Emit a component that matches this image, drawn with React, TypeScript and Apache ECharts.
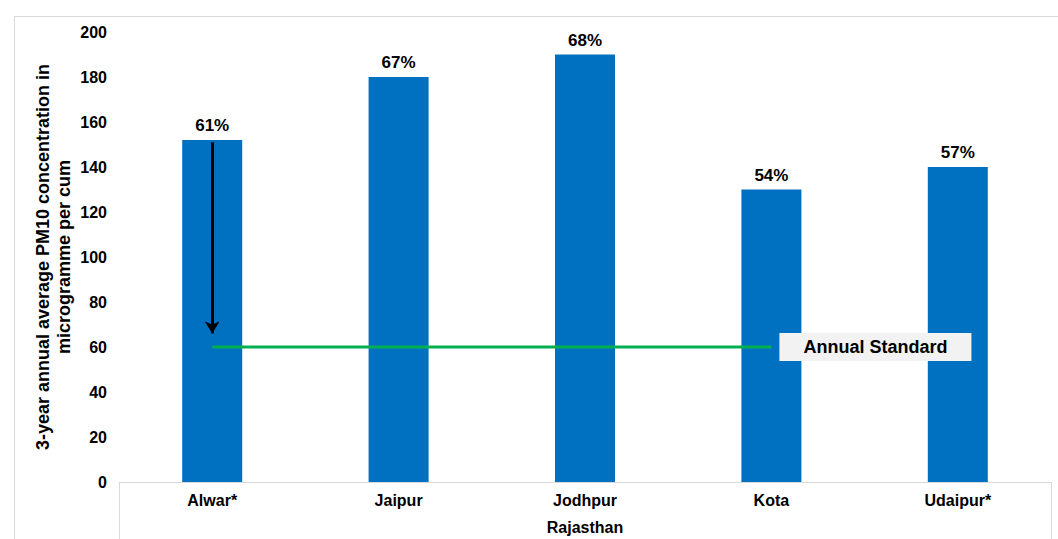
import React, { useEffect, useRef } from "react";
import * as echarts from "echarts";

const categories = ["Alwar*", "Jaipur", "Jodhpur", "Kota", "Udaipur*"];
const pm10Values = [152, 180, 190, 130, 140];
const exceedPct = ["61%", "67%", "68%", "54%", "57%"];
const groupLabel = ["Rajasthan"];
const standardValue = 60;
const standardFrom = "Alwar*";
const standardTo = "Kota";
const arrowFrom = 151;
const arrowTo = 66;
const yTicks = { min: 0, max: 200, interval: 20 };

const FONT = "'Liberation Sans', Arial, sans-serif";

export default function App() {
  const ref = useRef<HTMLDivElement>(null);
  useEffect(() => {
    if (!ref.current) return;
    const chart = echarts.init(ref.current, undefined, { renderer: "svg" });
    chart.setOption({
      animation: false,
      textStyle: { fontFamily: FONT },
      grid: { left: 119, right: 7, top: 32, bottom: 57, containLabel: false },
      graphic: [
        {
          type: "rect",
          left: 12,
          top: 14,
          shape: { width: 1100, height: 600 },
          style: { fill: "none", stroke: "#d9d9d9", lineWidth: 1 },
          silent: true,
          z: -1,
        },
      ],
      xAxis: [
        {
          type: "category",
          data: categories,
          position: "bottom",
          axisLine: { show: true, lineStyle: { color: "#d9d9d9", width: 1 } },
          axisTick: { show: false },
          axisLabel: { color: "#000", fontWeight: "bold", fontSize: 16, margin: 10, fontFamily: FONT },
        },
        {
          type: "category",
          data: groupLabel,
          position: "bottom",
          offset: 0,
          axisLine: { show: false },
          axisTick: { show: true, length: 60, lineStyle: { color: "#d9d9d9", width: 1 } },
          axisLabel: { color: "#000", fontWeight: "bold", fontSize: 16, margin: 37, fontFamily: FONT },
        },
      ],
      yAxis: {
        type: "value",
        min: yTicks.min,
        max: yTicks.max,
        interval: yTicks.interval,
        axisLine: { show: false },
        axisTick: { show: false },
        splitLine: { show: false },
        axisLabel: { color: "#000", fontWeight: "bold", fontSize: 16, margin: 12, fontFamily: FONT },
        name: "3-year annual average PM10 concentration in\nmicrogramme per cum",
        nameLocation: "middle",
        nameRotate: 90,
        nameGap: 45,
        nameMoveOverlap: false,
        nameTextStyle: {
          color: "#000",
          fontWeight: "bold",
          fontSize: 18,
          lineHeight: 21,
          fontFamily: FONT,
          align: "center",
        },
      },
      series: [
        {
          type: "bar",
          data: pm10Values,
          barWidth: 60,
          itemStyle: { color: "#0070C0" },
          label: {
            show: true,
            position: "top",
            distance: 6,
            formatter: (p: any) => exceedPct[p.dataIndex],
            color: "#000",
            fontWeight: "bold",
            fontSize: 17,
            fontFamily: FONT,
          },
          markLine: {
            silent: true,
            symbol: ["none", "arrow"],
            symbolSize: [11, 12],
            label: { show: false },
            lineStyle: { color: "#000", width: 3, type: "solid" },
            data: [[{ coord: [standardFrom, arrowFrom] }, { coord: [standardFrom, arrowTo] }]],
            z: 5,
          },
        },
        {
          type: "line",
          data: [
            [standardFrom, standardValue],
            [standardTo, standardValue],
          ],
          symbol: "none",
          lineStyle: { color: "#00B050", width: 3 },
          z: 4,
          endLabel: {
            show: true,
            formatter: "Annual Standard",
            color: "#000",
            fontWeight: "bold",
            fontSize: 18,
            fontFamily: FONT,
            backgroundColor: "#f2f2f2",
            padding: [5, 24, 5, 24],
            distance: 8,
          },
        },
      ],
    });
    return () => chart.dispose();
  }, []);
  return (
    <div
      ref={ref}
      style={{ position: "fixed", left: 0, top: 0, width: 1058, height: 539, background: "#fff" }}
    />
  );
}
